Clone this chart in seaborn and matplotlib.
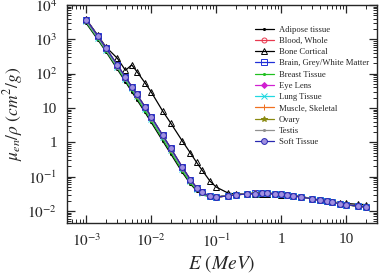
import numpy as np
import pandas as pd
import matplotlib
matplotlib.use("Agg")
import matplotlib.pyplot as plt
import seaborn as sns
from matplotlib.ticker import LogLocator, FixedLocator, FixedFormatter, NullFormatter

sns.set_style("ticks")
plt.rcParams.update({
    'font.family': ['Liberation Serif', 'DejaVu Serif'],
    'mathtext.fontset': 'stix',
    'xtick.direction': 'in',
    'ytick.direction': 'in',
    'xtick.top': True,
    'ytick.right': True,
})

# energy grid (MeV)
E = [0.001, 0.0015, 0.002, 0.003, 0.004, 0.005, 0.006, 0.008, 0.01, 0.015, 0.02, 0.03,
     0.04, 0.05, 0.06, 0.08, 0.1, 0.15, 0.2, 0.3, 0.4, 0.5, 0.6, 0.8, 1.0, 1.25, 1.5,
     2.0, 3.0, 4.0, 5.0, 6.0, 8.0, 10.0, 15.0, 20.0]

adipose = [2900, 980, 440, 135, 58, 30, 17.5, 7.5, 3.8, 1.1, 0.46, 0.135, 0.062, 0.039,
           0.031, 0.026, 0.0259, 0.0282, 0.0303, 0.0325, 0.0333, 0.0335, 0.0334, 0.0325,
           0.0315, 0.0301, 0.0289, 0.0266, 0.0231, 0.0208, 0.0192, 0.018, 0.0164, 0.0153,
           0.0138, 0.013]
blood = [3650, 1240, 550, 176, 79, 41.5, 24.8, 10.7, 5.45, 1.59, 0.665, 0.189, 0.082, 0.048,
         0.035, 0.027, 0.0256, 0.0277, 0.0297, 0.0317, 0.0325, 0.0327, 0.0326, 0.0318,
         0.0308, 0.0294, 0.0282, 0.026, 0.0227, 0.0206, 0.0191, 0.018, 0.0165, 0.0155,
         0.0141, 0.0134]
bone = [3770, 1300, 600, 280, 125, 180, 115, 54, 29, 8.1, 3.6, 1.1, 0.49, 0.26, 0.16,
        0.075, 0.05, 0.034, 0.031, 0.0314, 0.032, 0.0321, 0.032, 0.0312, 0.0302, 0.0289,
        0.0277, 0.0256, 0.0226, 0.0207, 0.0195, 0.0186, 0.0174, 0.0167, 0.0158, 0.0155]
brain = [3700, 1250, 560, 178, 79, 41.5, 24.8, 10.7, 5.45, 1.59, 0.665, 0.189, 0.082, 0.048,
         0.035, 0.027, 0.0257, 0.0278, 0.0298, 0.0318, 0.0326, 0.0328, 0.0327, 0.0319,
         0.0309, 0.0295, 0.0283, 0.0261, 0.0228, 0.0206, 0.0191, 0.018, 0.0165, 0.0155,
         0.0141, 0.0134]
breast = [3100, 1050, 470, 148, 64, 33.5, 19.5, 8.4, 4.3, 1.24, 0.52, 0.15, 0.067, 0.041,
          0.032, 0.0265, 0.0257, 0.028, 0.03, 0.0321, 0.0329, 0.0331, 0.033, 0.0322,
          0.0312, 0.0298, 0.0286, 0.0263, 0.0229, 0.0207, 0.0192, 0.018, 0.0164, 0.0154,
          0.0139, 0.0131]
eye_lens = [3600, 1220, 545, 172, 77, 40.5, 24, 10.4, 5.3, 1.55, 0.65, 0.185, 0.08, 0.047,
            0.035, 0.027, 0.0256, 0.0278, 0.0298, 0.0318, 0.0326, 0.0328, 0.0327, 0.0319,
            0.0309, 0.0295, 0.0283, 0.026, 0.0227, 0.0206, 0.0191, 0.018, 0.0165, 0.0155,
            0.0141, 0.0133]
lung = [3300, 1120, 500, 160, 70, 37, 22, 9.5, 4.85, 1.42, 0.6, 0.172, 0.076, 0.045,
        0.034, 0.027, 0.0256, 0.0277, 0.0297, 0.0317, 0.0325, 0.0327, 0.0326, 0.0318,
        0.0308, 0.0294, 0.0282, 0.026, 0.0227, 0.0206, 0.0191, 0.018, 0.0165, 0.0155,
        0.0141, 0.0134]
muscle = [3680, 1250, 555, 177, 79, 41.5, 24.8, 10.7, 5.45, 1.59, 0.665, 0.189, 0.082, 0.048,
          0.035, 0.027, 0.0255, 0.0276, 0.0296, 0.0316, 0.0325, 0.0327, 0.0326, 0.0318,
          0.0308, 0.0294, 0.0282, 0.026, 0.0227, 0.0206, 0.0191, 0.018, 0.0165, 0.0155,
          0.0141, 0.0134]
ovary = [3450, 1170, 520, 168, 75, 39, 23, 10.0, 5.1, 1.49, 0.62, 0.178, 0.077, 0.046,
         0.034, 0.027, 0.0257, 0.0278, 0.0298, 0.0318, 0.0326, 0.0328, 0.0327, 0.0319,
         0.0309, 0.0295, 0.0283, 0.026, 0.0227, 0.0206, 0.0191, 0.018, 0.0165, 0.0155,
         0.0141, 0.0133]
testis = [3400, 1150, 515, 165, 74, 38.5, 22.8, 9.9, 5.0, 1.47, 0.615, 0.176, 0.077, 0.045,
          0.034, 0.027, 0.0257, 0.0278, 0.0298, 0.0318, 0.0326, 0.0328, 0.0327, 0.0319,
          0.0309, 0.0295, 0.0283, 0.026, 0.0227, 0.0206, 0.0191, 0.018, 0.0165, 0.0155,
          0.0141, 0.0133]
soft = [3720, 1260, 560, 180, 80, 42, 25, 10.8, 5.5, 1.6, 0.67, 0.19, 0.082, 0.048, 0.035,
        0.027, 0.0256, 0.0277, 0.0297, 0.0317, 0.0325, 0.0327, 0.0326, 0.0318, 0.0308,
        0.0294, 0.0282, 0.026, 0.0227, 0.0206, 0.0191, 0.018, 0.0165, 0.0155, 0.0141,
        0.0134]

series = [
    ('Adipose tissue', adipose, 'black', '.', 'black'),
    ('Blood, Whole', blood, '#e8384f', 'o', 'none'),
    ('Bone Cortical', bone, 'black', '^', 'none'),
    ('Brain, Grey/White Matter', brain, '#2030d8', 's', 'none'),
    ('Breast Tissue', breast, '#20c020', '.', '#20c020'),
    ('Eye Lens', eye_lens, '#d020d0', 'D', '#d020d0'),
    ('Lung Tissue', lung, '#20d8e0', 'x', '#20d8e0'),
    ('Muscle, Skeletal', muscle, '#f07020', '+', '#f07020'),
    ('Ovary', ovary, '#8a8a10', '*', '#8a8a10'),
    ('Testis', testis, '#909090', '.', '#909090'),
    ('Soft Tissue', soft, '#2828b0', 'o', '#a090e0'),
]

fig = plt.figure(figsize=(3.84, 2.74), dpi=100)
ax = fig.add_axes([0.174, 0.186, 0.808, 0.796])

for name, vals, col, mk, fc in series:
    df = pd.DataFrame({'E': E, 'mu': vals})
    ms = {'o': 3.6, 's': 3.8, '^': 3.8, 'D': 3.0, '.': 3.0}.get(mk, 4)
    if name == 'Soft Tissue':
        ms = 4.2
    sns.lineplot(data=df, x='E', y='mu', ax=ax, color=col, marker=mk, lw=0.9,
                 markersize=ms, markerfacecolor=fc, markeredgecolor=col,
                 markeredgewidth=0.7, label=name)

ax.set_xscale('log')
ax.set_yscale('log')
ax.set_xlim(5e-4, 30)
ax.set_ylim(0.0045, 1e4)

xt = [1e-3, 1e-2, 1e-1, 1, 10]
xl = [r'$10^{-3}$', r'$10^{-2}$', r'$10^{-1}$', '1', '10']
ax.xaxis.set_major_locator(FixedLocator(xt))
ax.xaxis.set_major_formatter(FixedFormatter(xl))
ax.xaxis.set_minor_locator(LogLocator(base=10, subs=np.arange(2, 10), numticks=20))
ax.xaxis.set_minor_formatter(NullFormatter())

yt = [1e-2, 1e-1, 1, 10, 1e2, 1e3, 1e4]
yl = [r'$10^{-2}$', r'$10^{-1}$', '1', '10', r'$10^{2}$', r'$10^{3}$', r'$10^{4}$']
ax.yaxis.set_major_locator(FixedLocator(yt))
ax.yaxis.set_major_formatter(FixedFormatter(yl))
ax.yaxis.set_minor_locator(LogLocator(base=10, subs=np.arange(2, 10), numticks=20))
ax.yaxis.set_minor_formatter(NullFormatter())

ax.tick_params(which='major', length=6, width=0.9, labelsize=11, pad=7)
ax.tick_params(which='minor', length=3, width=0.7)
for s in ax.spines.values():
    s.set_linewidth(1.0)

ax.set_xlabel(r'$E\ (MeV)$', fontsize=14, labelpad=2)
ax.set_ylabel(r'$\mu_{en}/\rho\ (cm^{2}/g)$', fontsize=12.5, labelpad=2)

ax.legend(loc='upper left', bbox_to_anchor=(0.595, 0.92), frameon=False, fontsize=6.2,
          handlelength=2.2, handletextpad=0.6, labelspacing=0.37, borderaxespad=0)

fig.savefig('out.png', dpi=100)
